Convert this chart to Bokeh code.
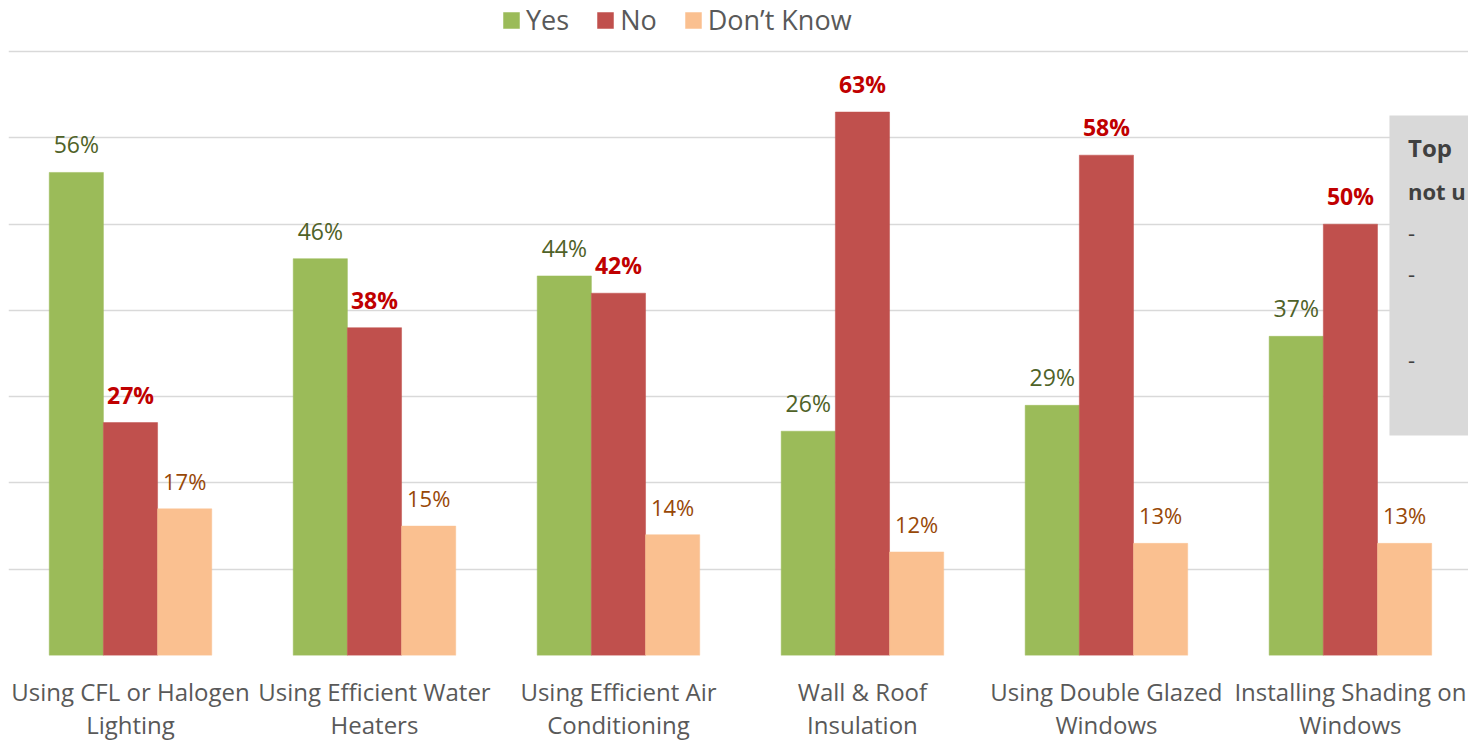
from bokeh.plotting import figure
from bokeh.models import ColumnDataSource, FixedTicker, Legend, LegendItem, BoxAnnotation, Label, Range1d
from bokeh.embed import file_html
from bokeh.resources import INLINE
from bokeh.core.properties import value

categories = ["Using CFL or Halogen\nLighting", "Using Efficient Water\nHeaters",
              "Using Efficient Air\nConditioning", "Wall & Roof\nInsulation",
              "Using Double Glazed\nWindows", "Installing Shading on\nWindows"]
yes_vals = [56, 46, 44, 26, 29, 37]
no_vals = [27, 38, 42, 63, 58, 50]
dk_vals = [17, 15, 14, 12, 13, 13]
series_names = ["Yes", "No", "Don\u2019t Know"]

FONT = "Open Sans"
bar_colors = ["#9bbb59", "#c0504d", "#fac090"]
label_colors = ["#4f6228", "#c00000", "#984807"]
label_styles = ["normal", "bold", "normal"]
label_sizes = ["23px", "23px", "22px"]
offsets = [-0.222, 0.0, 0.222]
bw = 0.222

xs = list(range(len(categories)))

p = figure(frame_width=1460, frame_height=655, output_backend="svg", toolbar_location=None,
           x_range=Range1d(-0.5, 5.484), y_range=Range1d(0, 75.93),
           min_border_left=8, min_border_right=0, min_border_top=0, min_border_bottom=0)
p.outline_line_color = None
p.background_fill_color = "white"
p.border_fill_color = "white"

# axes
p.yaxis.visible = False
p.yaxis.ticker = FixedTicker(ticks=[0, 10, 20, 30, 40, 50, 60, 70])
p.ygrid.ticker = FixedTicker(ticks=[0, 10, 20, 30, 40, 50, 60, 70])
p.ygrid.grid_line_color = "#d9d9d9"
p.ygrid.grid_line_width = 1.5
p.xgrid.visible = False
p.xaxis.ticker = FixedTicker(ticks=xs)
p.xaxis.major_label_overrides = {i: c for i, c in enumerate(categories)}
p.xaxis.axis_line_color = None
p.xaxis.major_tick_line_color = None
p.xaxis.minor_tick_line_color = None
p.xaxis.major_label_text_font = FONT
p.xaxis.major_label_text_font_size = "24px"
p.xaxis.major_label_text_color = "#595959"
p.xaxis.major_label_text_line_height = 1.01
p.xaxis.major_label_standoff = 13

items = []
for vals, name, col, lc, ls, lsz, off in zip([yes_vals, no_vals, dk_vals], series_names,
                                              bar_colors, label_colors, label_styles, label_sizes, offsets):
    src = ColumnDataSource(dict(x=[x + off for x in xs], top=vals,
                                lab=[f"{v}%" for v in vals]))
    r = p.vbar(x="x", top="top", width=bw, bottom=0, source=src,
               fill_color=col, line_color=col, line_width=0.5)
    p.text(x="x", y="top", text="lab", source=src, text_align="center",
           text_baseline="alphabetic", y_offset=-28, text_color=lc,
           text_font=value(FONT), text_font_size=lsz, text_font_style=ls)
    items.append(LegendItem(label=name, renderers=[r]))

legend = Legend(items=items, orientation="horizontal", location=(493, 617),
                border_line_color=None, background_fill_alpha=0,
                label_text_font=FONT, label_text_font_size="27px", label_text_color="#595959",
                glyph_width=20, glyph_height=20, label_standoff=5, spacing=26,
                padding=0, margin=0, label_height=30)
p.add_layout(legend)

# grey side panel (partially visible)
p.add_layout(BoxAnnotation(left=5.16, right=6.0, bottom=25.5, top=62.6,
                           fill_color="#d9d9d9", fill_alpha=1.0, line_color=None))
for txt, yv, st, sz in [("Top", 58.9, "bold", "24px"), ("not u", 53.9, "bold", "22px"),
                        ("-", 49.0, "normal", "22px"), ("-", 44.2, "normal", "22px"),
                        ("-", 34.2, "normal", "22px")]:
    p.add_layout(Label(x=5.236, y=yv, text=txt, text_font=FONT, text_font_size=sz,
                       text_font_style=st, text_color="#404040", text_baseline="middle",
                       text_align="left"))

open("out.html", "w").write(file_html(p, INLINE))
